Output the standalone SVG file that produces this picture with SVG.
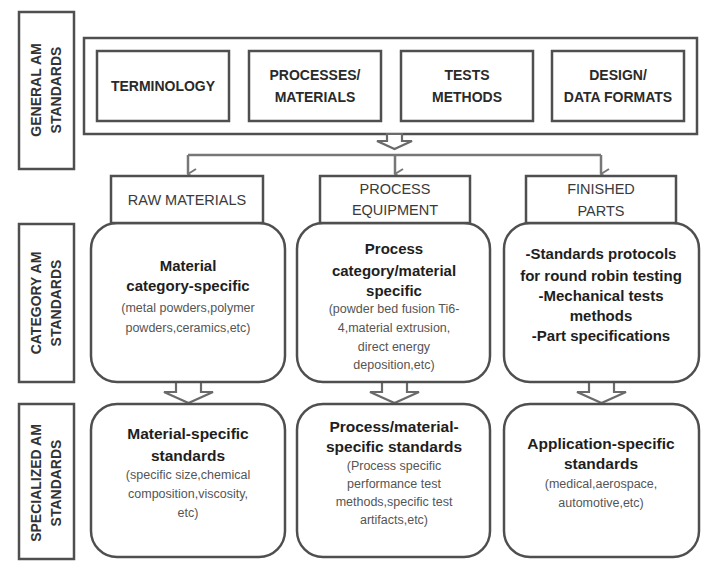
<svg xmlns="http://www.w3.org/2000/svg" width="704" height="561" viewBox="0 0 704 561">
<defs>
<style>
.bx{fill:#fff;stroke:#4f4f4f;stroke-width:2.5}
.rb{fill:#fff;stroke:#4f4f4f;stroke-width:2.5}
.side{font-family:"Liberation Sans",Arial,sans-serif;font-weight:bold;font-size:14px;fill:#333;text-anchor:middle}
.top{font-family:"Liberation Sans",Arial,sans-serif;font-weight:bold;font-size:14px;fill:#2a2a2a;text-anchor:middle}
.hd{font-family:"Liberation Sans",Arial,sans-serif;font-size:14.5px;fill:#3a3a3a;text-anchor:middle}
.b{font-family:"Liberation Sans",Arial,sans-serif;font-weight:bold;font-size:15px;fill:#1e1e1e;text-anchor:middle}
.b2{font-family:"Liberation Sans",Arial,sans-serif;font-weight:bold;font-size:15.5px;fill:#1e1e1e;text-anchor:middle}
.s{font-family:"Liberation Sans",Arial,sans-serif;font-size:12.5px;fill:#555;text-anchor:middle}
.ln{fill:none;stroke:#777;stroke-width:2.5}
.ha{fill:#fff;stroke:#6a6a6a;stroke-width:2.2;stroke-linejoin:miter}
</style>
<marker id="ah" viewBox="0 0 12 10" refX="6" refY="9" markerWidth="12" markerHeight="10" markerUnits="userSpaceOnUse" orient="auto-start-reverse">
<path d="M1 1 L6 9 L11 1" fill="none" stroke="#777" stroke-width="2"/>
</marker>
</defs>
<rect width="704" height="561" fill="#fff"/>

<g id="side-general"><rect class="bx" x="19" y="12" width="55" height="157"/>
<text class="side" transform="translate(41,90) rotate(-90)">GENERAL AM</text>
<text class="side" transform="translate(61,90) rotate(-90)">STANDARDS</text></g>
<g id="side-category"><rect class="bx" x="19" y="224" width="55" height="158"/>
<text class="side" transform="translate(41,303) rotate(-90)">CATEGORY AM</text>
<text class="side" transform="translate(61,303) rotate(-90)">STANDARDS</text></g>
<g id="side-specialized"><rect class="bx" x="19" y="404" width="55" height="155"/>
<text class="side" transform="translate(41,483) rotate(-90)">SPECIALIZED AM</text>
<text class="side" transform="translate(61,483) rotate(-90)">STANDARDS</text></g>

<g id="general"><rect class="bx" x="84" y="38" width="613" height="96"/></g>
<g id="terminology"><rect class="bx" x="97" y="51" width="132" height="70"/>
<text class="top" x="163" y="91">TERMINOLOGY</text></g>
<g id="processes"><rect class="bx" x="249" y="51" width="132" height="70"/>
<text class="top" x="315" y="80">PROCESSES/</text><text class="top" x="315" y="102">MATERIALS</text></g>
<g id="tests"><rect class="bx" x="401" y="51" width="132" height="70"/>
<text class="top" x="467" y="80">TESTS</text><text class="top" x="467" y="102">METHODS</text></g>
<g id="design"><rect class="bx" x="552" y="51" width="132" height="70"/>
<text class="top" x="618" y="80">DESIGN/</text><text class="top" x="618" y="102">DATA FORMATS</text></g>

<g id="connectors">
<polygon class="ha" points="387,134 402,134 402,141 412,141 394.5,149 377,141 387,141"/>
<path class="ln" d="M188 155 H601"/>
<path class="ln" d="M188 155 V174" marker-end="url(#ah)"/>
<path class="ln" d="M395 155 V174" marker-end="url(#ah)"/>
<path class="ln" d="M601 155 V174" marker-end="url(#ah)"/>
<polygon class="ha" points="176,382 201,382 201,392 213,392 188.5,403 164,392 176,392"/>
<polygon class="ha" points="382,382 407,382 407,392 419,392 394.5,403 370,392 382,392"/>
<polygon class="ha" points="589,382 614,382 614,392 626,392 601.5,403 577,392 589,392"/>
</g>

<g id="cat-raw"><rect class="rb" x="91" y="223" width="194" height="159" rx="26"/>
<text class="b" x="188" y="270.5">Material</text>
<text class="b" x="188" y="290.5">category-specific</text>
<text class="s" x="188" y="311.5">(metal powders,polymer</text>
<text class="s" x="188" y="331.5">powders,ceramics,etc)</text></g>
<g id="hd-raw"><rect class="bx" x="111" y="176" width="152" height="47"/>
<text class="hd" x="187" y="205">RAW MATERIALS</text></g>

<g id="cat-process"><rect class="rb" x="297" y="223" width="193" height="159" rx="26"/>
<text class="b" x="394" y="253.5">Process</text>
<text class="b" x="394" y="275.5">category/material</text>
<text class="b" x="394" y="295.5">specific</text>
<text class="s" x="394" y="312.5">(powder bed fusion Ti6-</text>
<text class="s" x="394" y="331.5">4,material extrusion,</text>
<text class="s" x="394" y="350.5">direct energy</text>
<text class="s" x="394" y="368.5">deposition,etc)</text></g>
<g id="hd-process"><rect class="bx" x="320" y="176" width="150" height="47"/>
<text class="hd" x="395" y="194">PROCESS</text>
<text class="hd" x="395" y="215">EQUIPMENT</text></g>

<g id="cat-finished"><rect class="rb" x="504" y="223" width="195" height="159" rx="26"/>
<text class="b" x="601" y="258.5">-Standards protocols</text>
<text class="b" x="601" y="280.5">for round robin testing</text>
<text class="b" x="601" y="300.5">-Mechanical tests</text>
<text class="b" x="601" y="320.5">methods</text>
<text class="b" x="601" y="340.5">-Part specifications</text></g>
<g id="hd-finished"><rect class="bx" x="526" y="176" width="150" height="47"/>
<text class="hd" x="601" y="194">FINISHED</text>
<text class="hd" x="601" y="216">PARTS</text></g>

<g id="spec-material"><rect class="rb" x="91" y="404" width="194" height="153" rx="26"/>
<text class="b2" x="188" y="438.5">Material-specific</text>
<text class="b2" x="188" y="460.5">standards</text>
<text class="s" x="188" y="478.5">(specific size,chemical</text>
<text class="s" x="188" y="497.5">composition,viscosity,</text>
<text class="s" x="188" y="516.5">etc)</text></g>

<g id="spec-process"><rect class="rb" x="297" y="404" width="193" height="153" rx="26"/>
<text class="b2" x="394" y="431.5">Process/material-</text>
<text class="b2" x="394" y="451.5">specific  standards</text>
<text class="s" x="394" y="469.5">(Process specific</text>
<text class="s" x="394" y="487.5">performance test</text>
<text class="s" x="394" y="505.5">methods,specific test</text>
<text class="s" x="394" y="523.5">artifacts,etc)</text></g>

<g id="spec-application"><rect class="rb" x="504" y="404" width="195" height="153" rx="26"/>
<text class="b2" x="601" y="448.5">Application-specific</text>
<text class="b2" x="601" y="468.5">standards</text>
<text class="s" x="601" y="487.5">(medical,aerospace,</text>
<text class="s" x="601" y="506.5">automotive,etc)</text></g>
</svg>
